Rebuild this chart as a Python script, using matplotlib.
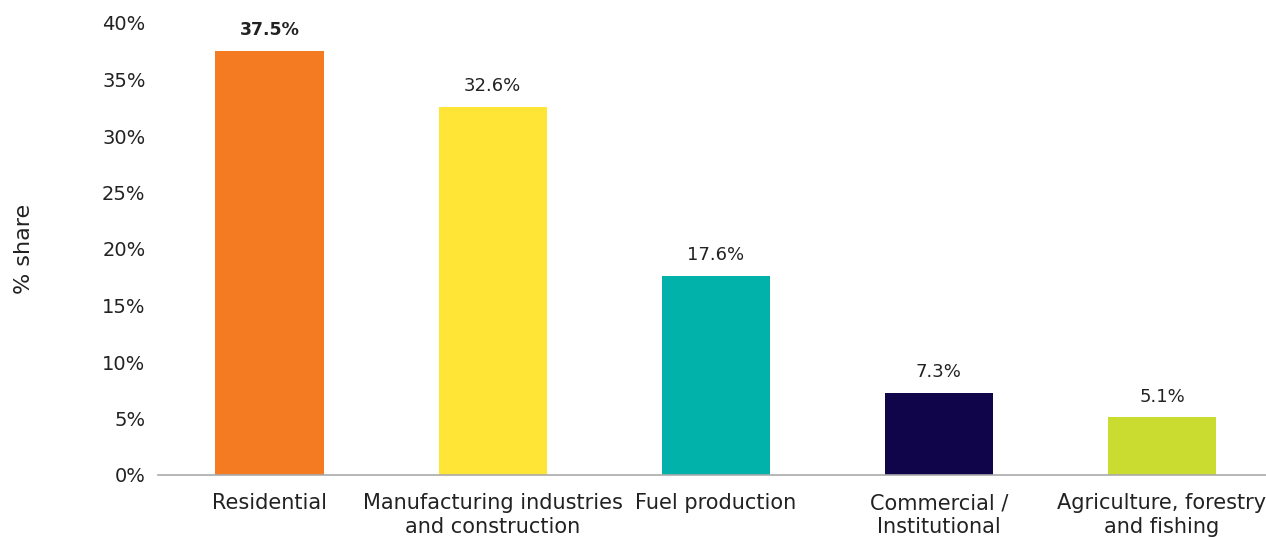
import matplotlib.pyplot as plt
import numpy as np

# data
categories = ['Residential', 'Manufacturing industries\nand construction', 'Fuel production',
              'Commercial /\nInstitutional', 'Agriculture, forestry\nand fishing']
shares = [37.5, 32.6, 17.6, 7.3, 5.1]
colors = ['#F47B22', '#FFE535', '#00B2AA', '#10044A', '#C9DC2F']
yticks = [0, 5, 10, 15, 20, 25, 30, 35, 40]

plt.rcParams['font.family'] = ['DejaVu Sans']
text_color = '#222222'

fig = plt.figure(figsize=(12.66, 5.37), dpi=100)
ax = fig.add_axes([158 / 1266, 62 / 537, 1108 / 1266, 452 / 537])

x = np.arange(len(categories))
ax.bar(x, shares, width=0.485, color=colors)

# value labels above the bars
for i, v in enumerate(shares):
    ax.annotate(f'{v:.1f}%', (x[i], v), xytext=(0, 15), textcoords='offset points',
                ha='center', va='center', fontsize=12.5 if i == 0 else 13,
                color=text_color, fontweight='bold' if i == 0 else 'normal')

ax.set_xlim(-0.5, 4.466)
ax.set_ylim(0, 40)
ax.set_yticks(yticks)
ax.set_yticklabels([f'{t}%' for t in yticks], fontsize=14, color=text_color)
ax.set_xticks(x)
ax.set_xticklabels(categories, fontsize=15, color=text_color, linespacing=1.25)
ax.tick_params(axis='y', length=0, pad=9)
ax.tick_params(axis='x', length=0, pad=13)

for s in ['top', 'right', 'left']:
    ax.spines[s].set_visible(False)
ax.spines['bottom'].set_color('#AAAAAA')
ax.spines['bottom'].set_linewidth(1.2)

ax.set_ylabel('% share', fontsize=16, color=text_color)
ax.yaxis.set_label_coords(-0.112, 0.5)

fig.savefig('out.png', dpi=100)
